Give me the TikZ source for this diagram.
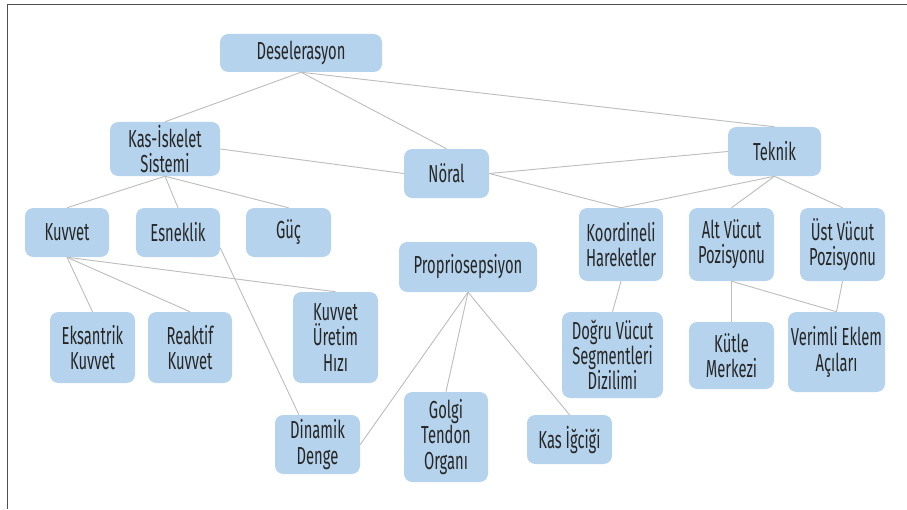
\documentclass[tikz,border=0pt]{standalone}
\usepackage{fontspec}
\setmainfont{Fira Sans}[FakeStretch=0.6]
\usepackage{tikz}
\usetikzlibrary{arrows,positioning}
\definecolor{boxblue}{RGB}{181,211,236}
\definecolor{linegray}{RGB}{190,190,190}
\definecolor{framegray}{RGB}{80,80,80}

\begin{document}
\begin{tikzpicture}[x=0.03cm,y=-0.03cm,
  box/.style={shape=rectangle,rounded corners=0.25cm,fill=boxblue,align=center,inner sep=0pt,
    text=black!85,font=\fontsize{21}{21.6}\selectfont},
  wh/.style 2 args={minimum width=#1*0.03cm,minimum height=#2*0.03cm},
  link/.style={draw=linegray,line width=0.8pt}]

\useasboundingbox (0,0) rectangle (907,509);
\draw[framegray,line width=1.2pt] (7.5,509) -- (7.5,4.5) -- (907,4.5);

\node[box,wh={162}{38}] (1) at (301,53){Deselerasyon};
\node[box,wh={110}{54}] (2) at (165,149){Kas-İskelet\\Sistemi};
\node[box,wh={85}{49}] (3) at (446.5,173.5){Nöral};
\node[box,wh={93}{49}] (4) at (774.5,151.5){Teknik};
\node[box,wh={84}{49}] (5) at (67,232.5){Kuvvet};
\node[box,wh={84}{49}] (6) at (178,232.5){Esneklik};
\node[box,wh={85}{49}] (7) at (288.5,232.5){Güç};
\node[box,wh={84}{73}] (8) at (621,244.5){Koordineli\\Hareketler};
\node[box,wh={85}{73}] (9) at (731.5,244.5){Alt Vücut\\Pozisyonu};
\node[box,wh={85}{73}] (10) at (842.5,244.5){Üst Vücut\\Pozisyonu};
\node[box,wh={138}{50}] (11) at (468,267){Propriosepsiyon};
\node[box,wh={85}{71}] (12) at (92.5,347.5){Eksantrik\\Kuvvet};
\node[box,wh={84}{71}] (13) at (190,347.5){Reaktif\\Kuvvet};
\node[box,wh={85}{91}] (14) at (335.5,337.5){Kuvvet\\Üretim\\Hızı};
\node[box,wh={85}{59}] (15) at (317.5,444.5){Dinamik\\Denge};
\node[box,wh={84}{90}] (16) at (446,437){Golgi\\Tendon\\Organı};
\node[box,wh={85}{49}] (17) at (569.5,439.5){Kas İğciği};
\node[box,wh={101}{86}] (18) at (612.5,355){Doğru Vücut\\Segmentleri\\Dizilimi};
\node[box,wh={85}{67}] (19) at (731.5,355.5){Kütle\\Merkezi};
\node[box,wh={97}{80}] (20) at (836.5,352){Verimli Eklem\\Açıları};
\draw[link] (1.south) -- (2.north);
\draw[link] (1.south) -- (3.north);
\draw[link] (1.south) -- (4.north);
\draw[link] (2.east) -- (3.west);
\draw[link] (3.east) -- (4.west);
\draw[link] (3.east) -- (8.north);
\draw[link] (4.south) -- (8.north);
\draw[link] (4.south) -- (9.north);
\draw[link] (4.south) -- (10.north);
\draw[link] (2.south) -- (5.north);
\draw[link] (2.south) -- (6.north);
\draw[link] (2.south) -- (7.north);
\draw[link] (5.south) -- (12.north);
\draw[link] (5.south) -- (13.north);
\draw[link] (5.south) -- (14.north);
\draw[link] (6.-20) -- (15.122);
\draw[link] (11.south) -- (15.east);
\draw[link] (11.south) -- (16.north);
\draw[link] (11.south) -- (17.north);
\draw[link] (8.south) -- (18.north);
\draw[link] (9.south) -- (19.north);
\draw[link] (9.south) -- (20.north);
\draw[link] (10.south) -- (20.north);

\end{tikzpicture}
\end{document}
